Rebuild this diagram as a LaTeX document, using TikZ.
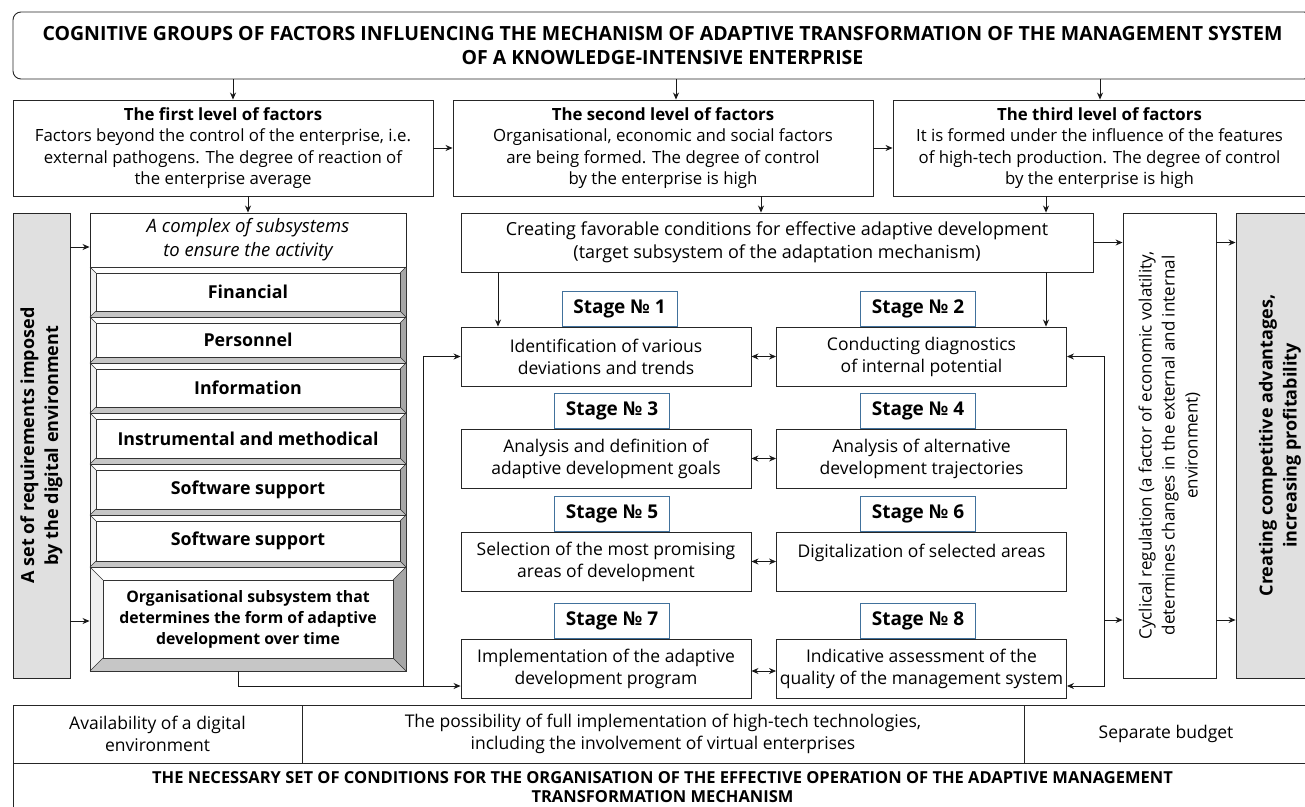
\documentclass[tikz,border=0pt]{standalone}
\usepackage{fontspec}
\setmainfont{Open Sans}
\usetikzlibrary{arrows.meta, positioning, calc}

\definecolor{stageblue}{RGB}{65,113,156}
\definecolor{barfill}{RGB}{224,224,224}

% one bevelled row of the subsystem stack: name, top, bottom, depth, text
\newcommand{\bevelrow}[5]{%
  \fill[white] (90,#2) -- (406,#2) -- ({406-#4},{#2+#4}) -- ({90+#4},{#2+#4}) -- cycle;
  \fill[gray!12] (90,#2) -- ({90+#4},{#2+#4}) -- ({90+#4},{#3-#4}) -- (90,#3) -- cycle;
  \fill[gray!45] (90,#3) -- ({90+#4},{#3-#4}) -- ({406-#4},{#3-#4}) -- (406,#3) -- cycle;
  \fill[gray!70] (406,#2) -- (406,#3) -- ({406-#4},{#3-#4}) -- ({406-#4},{#2+#4}) -- cycle;
  \draw[bevline] (90,#2) rectangle (406,#3);
  \draw[bevline] ({90+#4},{#2+#4}) rectangle ({406-#4},{#3-#4});
  \draw[bevline] (90,#2) -- ({90+#4},{#2+#4}) (406,#2) -- ({406-#4},{#2+#4})
    (90,#3) -- ({90+#4},{#3-#4}) (406,#3) -- ({406-#4},{#3-#4});
  \node[rowtxt] (#1) at (248,{(#2+#3)/2}) {#5};
}

\begin{document}
\begin{tikzpicture}[x=1pt, y=-1pt,
  box/.style={rectangle, draw=black!85, line width=0.9pt, align=center, inner sep=2pt, font=\fontsize{17.5}{22}\selectfont},
  hbox/.style={box, rounded corners=8pt, font=\bfseries\fontsize{19.5}{24}\selectfont},
  lvlbox/.style={box, minimum height=96, font=\fontsize{16.8}{21.5}\selectfont},
  stagebox/.style={box, minimum width=290, minimum height=59},
  stagelbl/.style={rectangle, draw=stageblue, line width=0.9pt, fill=white, minimum width=115, minimum height=35, inner sep=0pt, font=\bfseries\fontsize{19}{20}\selectfont},
  bar/.style={box, rotate=90, fill=barfill, font=\bfseries\fontsize{18}{24}\selectfont},
  rowtxt/.style={inner sep=0pt, align=center, font=\bfseries\fontsize{17.8}{21}\selectfont},
  bevline/.style={line width=0.6pt, black!80},
  arrow/.style={->, line width=0.8pt, black!90},
  twoway/.style={<->, line width=0.8pt, black!90},
  >={Stealth[length=7pt, width=6pt]}
]
\useasboundingbox (0,0) rectangle (1305,806);
\clip (0,0) rectangle (1305,806);

% Title and the three levels of factors
\node[hbox, minimum width=1299, minimum height=67] (title) at (662.5,45.5)
  {COGNITIVE GROUPS OF FACTORS INFLUENCING THE MECHANISM OF ADAPTIVE TRANSFORMATION OF THE MANAGEMENT SYSTEM\\OF A KNOWLEDGE-INTENSIVE ENTERPRISE};
\node[lvlbox, minimum width=420] (first) at (223,148)
  {{\bfseries The first level of factors}\\Factors beyond the control of the enterprise, i.e.\\external pathogens. The degree of reaction of\\the enterprise average};
\node[lvlbox, minimum width=420] (second) at (663,148)
  {{\bfseries The second level of factors}\\Organisational, economic and social factors\\are being formed. The degree of control\\by the enterprise is high};
\node[lvlbox, minimum width=413] (third) at (1099.5,148)
  {{\bfseries The third level of factors}\\It is formed under the influence of the features\\of high-tech production. The degree of control\\by the enterprise is high};

% Side bars
\node[bar, minimum width=465, minimum height=57] (req) at (41.5,445.5)
  {A set of requirements imposed\\by the digital environment};
\node[box, rotate=90, minimum width=465, minimum height=93, font=\fontsize{17}{23}\selectfont] (cycl) at (1169.5,445.5)
  {Cyclical regulation (a factor of economic volatility,\\determines changes in the external and internal\\environment)};
\node[bar, minimum width=465, minimum height=88] (advan) at (1280,445.5)
  {Creating competitive advantages,\\increasing profitability};

% Complex of subsystems
\node[box, minimum width=316, minimum height=54, font=\itshape\fontsize{18.5}{24}\selectfont] (cplx) at (248,240)
  {A complex of subsystems\\to ensure the activity};
\bevelrow{fin}{267}{317}{6}{Financial}
\bevelrow{pers}{317}{363}{6}{Personnel}
\bevelrow{info}{363}{413}{6}{Information}
\bevelrow{instr}{413}{464}{6}{Instrumental and methodical}
\bevelrow{soft}{464}{515}{6}{Software support}
\bevelrow{softb}{515}{567}{6}{Software support}
\bevelrow{org}{567}{671}{13}{\fontsize{15.8}{20.5}\selectfont Organisational subsystem that\\\fontsize{15.8}{20.5}\selectfont determines the form of adaptive\\\fontsize{15.8}{20.5}\selectfont development over time}

% Target subsystem and stages
\node[box, minimum width=632, minimum height=59, font=\fontsize{18}{23}\selectfont] (target) at (777,242.5)
  {Creating favorable conditions for effective adaptive development\\(target subsystem of the adaptation mechanism)};
\node[stagebox] (s1) at (606,356.5) {Identification of various\\deviations and trends};
\node[stagebox] (s2) at (921.5,356.5) {Conducting diagnostics\\of internal potential};
\node[stagebox] (s3) at (606,458.5) {Analysis and definition of\\adaptive development goals};
\node[stagebox] (s4) at (921.5,458.5) {Analysis of alternative\\development trajectories};
\node[stagebox] (s5) at (606,561.5) {Selection of the most promising\\areas of development};
\node[stagebox, text depth=22pt] (s6) at (921.5,561.5) {Digitalization of selected areas};
\node[stagebox] (s7) at (606,668.5) {Implementation of the adaptive\\development program};
\node[stagebox] (s8) at (921.5,668.5) {Indicative assessment of the\\quality of the management system};

\node[stagelbl, above=0pt of s1, xshift=13.5pt] (l1) {Stage № 1};
\node[stagelbl, above=0pt of s2, xshift=-3.5pt] (l2) {Stage № 2};
\node[stagelbl, above=0pt of s3, xshift=6pt] (l3) {Stage № 3};
\node[stagelbl, above=0pt of s4, xshift=-3.5pt] (l4) {Stage № 4};
\node[stagelbl, above=0pt of s5, xshift=6pt] (l5) {Stage № 5};
\node[stagelbl, above=0pt of s6, xshift=-3.5pt] (l6) {Stage № 6};
\node[stagelbl, above=0pt of s7, xshift=6pt] (l7) {Stage № 7};
\node[stagelbl, above=0pt of s8, xshift=-3.5pt] (l8) {Stage № 8};

% Conditions table
\node[box, minimum width=289, minimum height=58] (avail) at (157.5,734)
  {Availability of a digital\\environment};
\node[box, minimum width=722, minimum height=58] (poss) at (663,734)
  {The possibility of full implementation of high-tech technologies,\\including the involvement of virtual enterprises};
\node[box, minimum width=284, minimum height=58] (budget) at (1166,734) {Separate budget};
\node[box, minimum width=1299, minimum height=48, font=\bfseries\fontsize{16.5}{19.5}\selectfont] (cond) at (662.5,787)
  {THE NECESSARY SET OF CONDITIONS FOR THE ORGANISATION OF THE EFFECTIVE OPERATION OF THE ADAPTIVE MANAGEMENT\\TRANSFORMATION MECHANISM};

% Arrows - levels
\coordinate (t1) at (233,79);
\coordinate (t2) at (676,79);
\coordinate (t3) at (1100,79);
\draw[arrow] (t1) -- (t1 |- first.north);
\draw[arrow] (t2) -- (t2 |- second.north);
\draw[arrow] (t3) -- (t3 |- third.north);
\draw[arrow] (first.east) -- (second.west);
\draw[arrow] (second.east) -- (third.west);
\draw[arrow] (first.south -| cplx.north) -- (cplx.north);
\coordinate (a2) at (761,196);
\coordinate (a3) at (1046,196);
\coordinate (a1) at (498,272);
\draw[arrow] (a2) -- (a2 |- target.north);
\draw[arrow] (a3) -- (a3 |- target.north);
\draw[arrow] (a1) -- (a1 |- s1.north);
\draw[arrow] (a3 |- target.south) -- (a3 |- s2.north);

% Arrows - side bars
\coordinate (r1) at (70,247);
\coordinate (r2) at (70,621);
\draw[arrow] (r1) -- (r1 -| cplx.west);
\draw[arrow] (r2) -- (r2 -| cplx.west);
\draw[arrow] (target.east) -- (cycl.north |- target.east);
\coordinate (fb) at (1104,620);
\draw[arrow] (cycl.south |- target.east) -- (advan.north |- target.east);
\draw[arrow] (cycl.south |- fb) -- (advan.north |- fb);

% Arrows - stages
\draw[twoway] (s1) -- (s2);
\draw[twoway] (s3) -- (s4);
\draw[twoway] (s5) -- (s6);
\draw[twoway] ([yshift=-2.5pt]s7.east) -- ([yshift=-2.5pt]s8.west);
\draw[arrow] (fb) |- (s2.east);
\draw[arrow] (fb) |- ([yshift=-17.5pt]s8.east);
\draw[arrow] (fb) -- (fb -| cycl.north);
\coordinate (stackbot) at (238,671);
\coordinate (split) at (423,686);
\draw[arrow] (stackbot) |- ([yshift=-17.5pt]s7.west);
\draw[arrow] (split) |- (s1.west);

\end{tikzpicture}
\end{document}
